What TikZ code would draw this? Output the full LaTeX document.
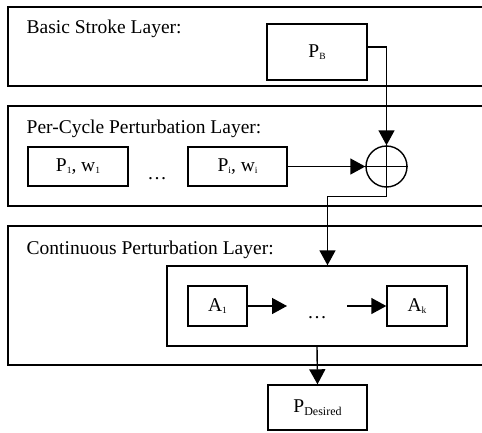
\documentclass[tikz,border=0pt]{standalone}
\usepackage{fontspec}
\setmainfont{Liberation Serif}
\usetikzlibrary{arrows.meta}
\newcommand\lowsub[2][9.5]{\raisebox{-2.5pt}{\fontsize{#1}{#1}\selectfont #2}}
\begin{document}
\begin{tikzpicture}[x=1pt,y=-1pt,line width=1.4pt,
  font=\fontsize{19.5}{22}\selectfont,
  blk/.style={draw,inner sep=0pt,minimum width=#1},
  arr/.style={-{Triangle[length=15pt,width=16pt]}},
  title/.style={anchor=base west,inner sep=0pt}]
\useasboundingbox (0,0) rectangle (482,432);
\clip (0,0) rectangle (482,432);

% layer frames (open to the right)
\draw (8,7) rectangle (500,86);
\draw (8,106) rectangle (500,206);
\draw (8,226) rectangle (500,365);

\node[title] (t1) at (26,33) {Basic Stroke Layer:};
\node[title] (t2) at (26,133) {Per-Cycle Perturbation Layer:};
\node[title] (t3) at (26,254) {Continuous Perturbation Layer:};

% basic stroke
\node[blk=100pt,minimum height=56pt] (pb) at (317,52) {P\lowsub{B}};

% per-cycle perturbations
\node[blk=100pt,minimum height=39pt] (p1) at (78,166.5) {P\lowsub{1}, w\lowsub{1}};
\node[anchor=base,inner sep=0pt] (d1) at (157,179) {\dots};
\node[blk=99pt,minimum height=39pt] (pi) at (237.5,166.5) {P\lowsub{i}, w\lowsub{i}};
\node[draw,circle,inner sep=0pt,minimum size=41pt] (sum) at (386.5,166.5) {};
\draw (sum.north) -- (sum.south) (sum.west) -- (sum.east);

% continuous perturbations
\node[blk=300pt,minimum height=80pt] (inner) at (317,306) {};
\node[blk=59pt,minimum height=40pt] (a1) at (217.5,306) {A\lowsub{1}};
\node[anchor=base,inner sep=0pt] (d2) at (317,318) {\dots};
\node[blk=60pt,minimum height=40pt] (ak) at (417,306) {A\lowsub{k}};
\coordinate (a1to) at (287,306);
\coordinate (akfrom) at (347,306);

% output
\node[blk=99pt,minimum height=45pt] (pd) at (317.5,407.5) {P\lowsub[12]{Desired}};

% connectors
\draw[arr] ([yshift=5pt]pb.east) -| (sum.north);
\draw[arr] (pi.east) -- (sum.west);
\coordinate (bend) at (386.5,196.5);
\draw[arr] (sum.south) -- (bend) -| ([xshift=10.5pt]inner.north);
\draw[arr] (a1.east) -- (a1to);
\draw[arr] (akfrom) -- (ak.west);
\draw[arr] (inner.south) -- (pd.north);
\end{tikzpicture}
\end{document}
